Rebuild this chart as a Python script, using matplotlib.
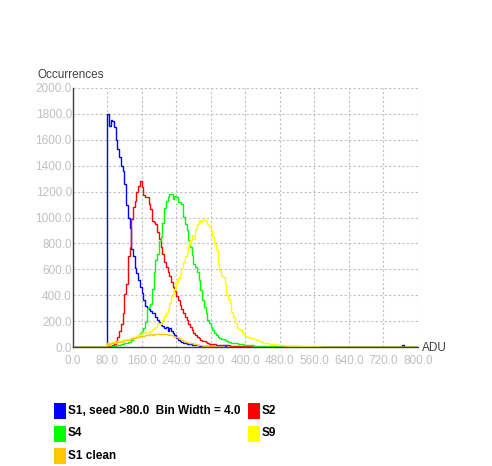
import numpy as np
import matplotlib
matplotlib.use("Agg")
import matplotlib.pyplot as plt
from matplotlib.patches import Rectangle

# histogram counts, bin width 4.0, first bin starts at 80.0 (seed > 80)
bin_width = 4.0
first_bin = 80.0

s1 = [1800, 1710, 1750, 1745, 1700, 1600, 1530, 1470, 1400, 1360,
      1260, 1100, 1000, 920, 760, 700, 610, 570, 515, 465,
      415, 360, 320, 300, 290, 275, 265, 260, 230, 208,
      195, 170, 160, 150, 156, 120, 150, 125, 105, 90,
      70, 55, 45, 38, 33, 28, 25, 23, 20, 18,
      15, 15, 12, 10, 10, 10, 8, 8, 6, 5,
      5, 4, 3, 3, 2, 2, 2, 3, 12, 2]
s2 = [5, 5, 10, 15, 20, 50, 80, 120, 180, 260,
      410, 490, 700, 770, 990, 1080, 1130, 1195, 1245, 1280,
      1235, 1170, 1155, 1155, 1105, 1065, 975, 965, 950, 890,
      835, 770, 720, 660, 615, 580, 545, 500, 460, 430,
      395, 365, 325, 295, 262, 235, 208, 180, 158, 135,
      110, 95, 80, 68, 56, 50, 44, 36, 31, 27,
      24, 22, 20, 18, 16, 15, 15, 14, 13, 12,
      12, 10, 10, 9, 8, 8, 7, 6, 6, 5,
      5, 5, 4, 4, 3, 3, 3, 2, 2, 2]
s4 = [2, 3, 5, 8, 10, 12, 15, 18, 22, 25,
      28, 30, 35, 41, 55, 70, 77, 80, 95, 110,
      120, 150, 190, 300, 310, 330, 450, 580, 670, 720,
      820, 850, 960, 1070, 1130, 1155, 1182, 1182, 1144, 1169,
      1156, 1118, 1118, 1105, 1003, 951, 900, 823, 771, 708,
      644, 618, 580, 515, 438, 362, 310, 259, 208, 182,
      156, 130, 105, 92, 79, 70, 62, 59, 54, 45,
      38, 35, 33, 30, 28, 28, 25, 22, 20, 18,
      15, 15, 13, 12, 12, 10, 10, 9, 9, 8,
      8, 8, 7, 7, 7, 6, 6, 6, 6, 5,
      5, 5, 5, 5, 5, 4, 4, 4, 4, 4,
      4, 3, 3, 3, 3, 3, 3, 3, 3, 3]
s9 = [28, 30, 32, 35, 38, 41, 45, 48, 52, 54,
      56, 58, 62, 65, 70, 75, 80, 88, 92, 98,
      105, 110, 112, 110, 118, 125, 140, 150, 156, 182,
      175, 190, 205, 240, 262, 290, 336, 390, 420, 450,
      500, 530, 567, 610, 656, 700, 733, 785, 823, 862,
      836, 913, 951, 977, 964, 977, 982, 975, 951, 925,
      900, 849, 797, 746, 644, 592, 545, 540, 490, 413,
      374, 336, 272, 233, 182, 150, 140, 131, 110, 92,
      85, 79, 72, 67, 66, 60, 56, 54, 45, 38,
      33, 30, 28, 28, 27, 25, 23, 20, 18, 15,
      15, 12, 12, 10, 10, 10, 9, 9, 8, 8,
      8, 7, 6, 6, 5, 5, 5, 5, 4, 4,
      4, 4, 4, 3, 3, 3, 3, 3, 3, 3,
      3, 3, 3, 3, 2, 2, 2, 2, 2, 2]
s1_clean = [30, 25, 30, 28, 33, 36, 40, 42, 42, 48,
            54, 52, 56, 60, 66, 68, 72, 76, 80, 85,
            85, 88, 92, 92, 95, 98, 96, 100, 102, 98,
            104, 100, 104, 98, 100, 96, 92, 90, 85, 80,
            75, 68, 62, 55, 48, 42, 38, 33, 30, 28,
            25, 22, 18, 15, 13, 10, 8, 8, 6, 5,
            5, 4, 3, 3, 2, 2]

# isolated counts far out in the tail: (bin start, count)
s1_tail = [(764.0, 15.0)]

series = [("S1, seed >80.0  Bin Width = 4.0", s1, "#0000ff"),
          ("S2", s2, "#ff0000"),
          ("S4", s4, "#00ff00"),
          ("S9", s9, "#ffff00"),
          ("S1 clean", s1_clean, "#ffc800")]

edges = np.arange(0, 800 + bin_width, bin_width)
start = int(first_bin / bin_width)

fig = plt.figure(figsize=(4.92, 4.66), dpi=100)
ax = fig.add_axes([72.5 / 492, 1 - 347 / 466, (418 - 72.5) / 492, (347 - 88) / 466])

for name, vals, col in series:
    counts = np.zeros(len(edges) - 1)
    counts[start:start + len(vals)] = vals
    if name.startswith("S1,"):
        for b, c in s1_tail:
            counts[int(b / bin_width)] = c
    ax.stairs(counts, edges, baseline=None, color=col, lw=1.0)

ax.set_xlim(0, 800)
ax.set_ylim(0, 2000)
ax.set_xticks(np.arange(0, 801, 80))
ax.set_yticks(np.arange(0, 2001, 200))
ax.set_xticklabels(["%.1f" % v for v in np.arange(0, 801, 80)])
ax.set_yticklabels(["%.1f" % v for v in np.arange(0, 2001, 200)])
ax.grid(True, color="#c0c0c0", linestyle=(0, (2, 2)), lw=0.8)
ax.set_axisbelow(True)
for s in ["top", "right"]:
    ax.spines[s].set_visible(False)
for s in ["left", "bottom"]:
    ax.spines[s].set_color("#404040")
    ax.spines[s].set_linewidth(1.0)
ax.tick_params(axis="both", length=0, colors="#c0c0c0", labelsize=8.5)
ax.tick_params(axis="x", pad=6)
ax.tick_params(axis="y", pad=0.5)
for lab in ax.get_xticklabels() + ax.get_yticklabels():
    lab.set_family("Liberation Sans")

fig.text(38 / 492, 1 - 75.5 / 466, "Occurrences", fontsize=8.5, color="#404040",
         family="Liberation Sans", va="center", ha="left")
fig.text(422 / 492, 1 - 348 / 466, "ADU", fontsize=8.5, color="#404040",
         family="Liberation Sans", va="center", ha="left")

# legend below the plot, two columns
slots = [(54, 411), (248, 411), (54, 433.5), (248, 433.5), (54, 456)]
order = [0, 1, 2, 3, 4]
for (x, y), i in zip(slots, order):
    name, vals, col = series[i]
    fig.add_artist(Rectangle((x / 492, 1 - (y + 8) / 466), 12 / 492, 16 / 466,
                             transform=fig.transFigure, facecolor=col, edgecolor="none"))
    fig.text((x + 14) / 492, 1 - y / 466, name, fontsize=8.5, fontweight="bold",
             family="Liberation Sans", va="center", ha="left", color="black")

fig.savefig("out.png", dpi=100)
